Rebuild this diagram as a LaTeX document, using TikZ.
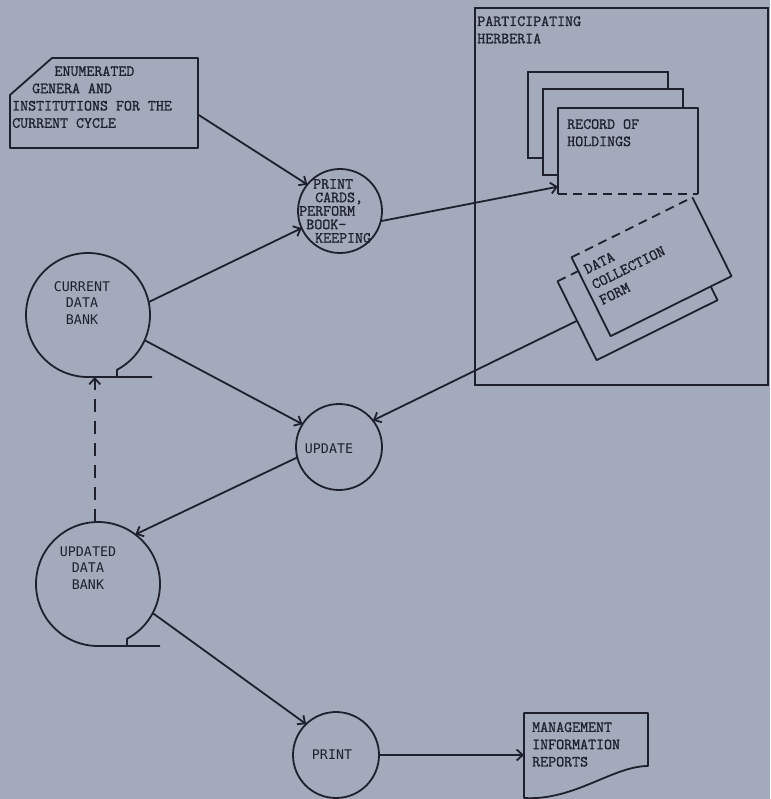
\documentclass[tikz,border=0pt]{standalone}
\usepackage{fontspec}
\usepackage{tikz}
\usetikzlibrary{arrows.meta,positioning,calc}
\newfontfamily\gothic{DejaVu Sans Mono}
\newfontfamily\typewriter{Latin Modern Mono}[FakeBold=1.2]
\definecolor{paper}{RGB}{163,170,187}
\definecolor{ink}{RGB}{30,33,45}
\newcommand\colshift[1]{\hspace*{#1\fontcharwd\font`0}}
\tikzset{
  proc/.style={circle, draw=ink, line width=1.8pt, minimum size=86pt, inner sep=0pt, outer sep=0pt},
  bank/.style={circle, minimum size=124pt, inner sep=0pt, outer sep=0pt},
  sheet/.style={rectangle, fill=paper, inner sep=0pt, outer sep=0pt, minimum width=140pt, minimum height=86pt},
  typed/.style={font=\typewriter\fontsize{15.5}{17.3}\selectfont, text=ink, align=left, inner sep=0pt, anchor=north west},
  lettered/.style={font=\gothic\fontsize{13.3}{16.5}\selectfont, text=ink, align=center, inner sep=0pt},
  inkline/.style={draw=ink, line width=1.8pt, line join=round},
  flow/.style={inkline, -{Straight Barb[length=6pt,width=11pt]}},
  dashline/.style={inkline, dash pattern=on 9pt off 6pt}
}

\begin{document}
\begin{tikzpicture}[x=1pt, y=-1pt]
\fill[paper] (0,0) rectangle (770,799);
\useasboundingbox (0,0) rectangle (770,799);

% input list for the cycle
\node[minimum width=188pt, minimum height=90pt, inner sep=0pt, outer sep=0pt] (enum) at (104,103) {};
\draw[inkline] ($(enum.north west)+(0,37)$) -- ($(enum.north west)+(42,0)$) -- (enum.north east)
  -- (enum.south east) -- (enum.south west) -- cycle;
\node[typed] (enumtext) at ($(enum.north west)+(2,8)$)
  {\colshift{5.3}ENUMERATED\\\colshift{2.5}GENERA AND\\INSTITUTIONS FOR THE\\CURRENT CYCLE};

% herbaria side
\node[draw=ink, line width=1.8pt, minimum width=293pt, minimum height=377pt, inner sep=0pt] (herb) at (621.5,196.5) {};
\node[typed] (herbtext) at ($(herb.north west)+(3,9)$) {PARTICIPATING\\HERBERIA};

\node[sheet, draw=ink, line width=1.8pt] (recc) at (598,115) {};
\node[sheet, draw=ink, line width=1.8pt] (recb) at ($(recc)+(15,17)$) {};
\node[sheet] (rec) at ($(recb)+(15,19)$) {};
\draw[inkline] (rec.south west) -- (rec.north west) -- (rec.north east) -- (rec.south east);
\draw[dashline] (rec.south west) -- (rec.south east);
\node[typed] (rectext) at ($(rec.north west)+(9,11)$) {RECORD OF\\HOLDINGS};

\node[sheet, minimum width=135pt, minimum height=88pt, rotate=26.4] (formb) at (637.5,290.75) {};
\draw[inkline] (formb.north east) -- (formb.south east) -- (formb.south west) -- (formb.north west);
\draw[dashline] (formb.north west) -- (formb.north east);
\node[sheet, minimum width=135pt, minimum height=88pt, rotate=26.4] (form) at ($(formb)+(14,-24)$) {};
\draw[inkline] (form.north east) -- (form.south east) -- (form.south west) -- (form.north west);
\draw[dashline] (form.north west) -- (form.north east);
\node[typed, rotate=26.4] (formtext) at ($(form.north west)+(11,8)$) {DATA\\COLLECTION\\FORM};

% processing steps
\node[proc, minimum size=84pt] (cards) at (340,211) {};
\node[typed, font=\typewriter\fontsize{15.5}{13.5}\selectfont] (cardstext) at ($(cards)+(-41,-32)$)
  {\colshift{1.75}PRINT\\\colshift{2}CARDS,\\PERFORM\\\colshift{0.9}BOOK-\\\colshift{2}KEEPING};

\node[bank] (cur) at (88,315) {};
\draw[inkline] ($(cur.south)+(64,0)$) -- (cur.south) arc[start angle=90, end angle=422, radius=62]
  -- ($(cur.south)+(29,0)$);
\node[lettered] (curtext) at ($(cur)+(-6,-12)$) {CURRENT\\DATA\\BANK};

\node[proc] (update) at (339,447) {};
\node[lettered] (updatetext) at ($(update)+(-10,2)$) {UPDATE};

\node[bank] (upd) at (98,584) {};
\draw[inkline] ($(upd.south)+(62,0)$) -- (upd.south) arc[start angle=90, end angle=422, radius=62]
  -- ($(upd.south)+(29,0)$);
\node[lettered] (updtext) at ($(upd)+(-10,-16)$) {UPDATED\\DATA\\BANK};

\node[proc] (prt) at (336,755) {};
\node[lettered] (prttext) at ($(prt)+(-4,0)$) {PRINT};

% output document
\node[minimum width=124pt, minimum height=85pt, inner sep=0pt, outer sep=0pt] (mir) at (586,755.5) {};
\draw[inkline] (mir.south west) -- (mir.north west) -- (mir.north east) -- ($(mir.north east)+(0,53)$)
  .. controls +(-35,0) and +(50,3) .. (mir.south west);
\node[typed] (mirtext) at ($(mir.north west)+(8,9)$) {MANAGEMENT\\INFORMATION\\REPORTS};

% flows
\draw[flow] (enum.-7) -- (cards.141);
\draw[flow] (cur.12) -- (cards.204);
\draw[flow] (cards.-14) -- (rec.207);
\draw[flow] (cur.-24) -- (update.148);
\draw[flow] (formb.west) -- (update.38);
\draw[flow] (update.194) -- (upd.53);
\draw[flow, dash pattern=on 13pt off 9pt] (upd.93) -- (upd.93 |- cur.south);
\draw[flow] (upd.-28) -- (prt.134);
\draw[flow] (prt.east) -- (prt.east -| mir.west);
\end{tikzpicture}
\end{document}
